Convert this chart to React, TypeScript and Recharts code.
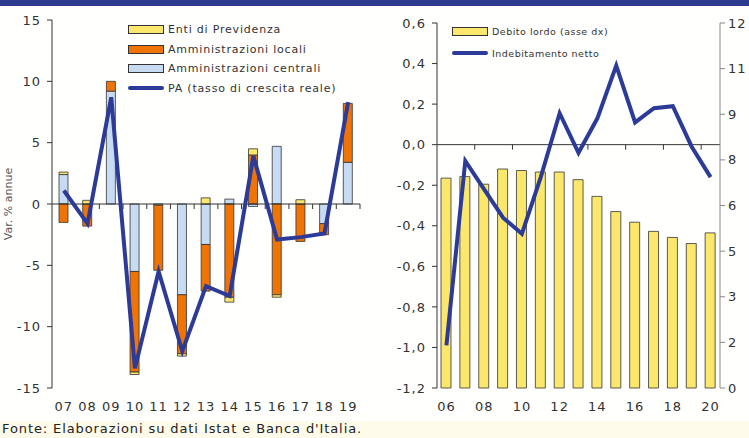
import React from "react";
import {
  ComposedChart,
  Bar,
  Line,
  XAxis,
  YAxis,
  ReferenceLine,
  Legend,
} from "recharts";

// pannello sinistro: contributi alla crescita della spesa PA
const years = ["07", "08", "09", "10", "11", "12", "13", "14", "15", "16", "17", "18", "19"];
const centrali = [2.4, 0, 9.2, -5.5, -0.1, -7.4, -3.3, 0.4, -0.2, 4.7, 0, -1.6, 3.4];
const locali = [-1.5, -1.8, 0.8, -8.2, -5.3, -4.8, -3.8, -7.6, 4.0, -7.4, -3.05, -0.9, 4.8];
const enti = [0.2, 0.3, 0, -0.2, 0, -0.2, 0.5, -0.4, 0.5, -0.2, 0.35, 0, 0];
const pa = [1.1, -1.6, 8.7, -13.4, -5.5, -12.0, -6.7, -7.5, 3.9, -2.9, -2.7, -2.4, 8.3];
const leftTicks = [-15, -10, -5, 0, 5, 10, 15];

// pannello destro: debito lordo e indebitamento netto
const anni = ["06", "07", "08", "09", "10", "11", "12", "13", "14", "15", "16", "17", "18", "19", "20"];
const debito = [6.9, 6.95, 6.7, 7.2, 7.15, 7.1, 7.1, 6.85, 6.3, 5.8, 5.45, 5.15, 4.95, 4.75, 5.1];
const indebitamento = [-0.99, -0.08, -0.22, -0.36, -0.44, -0.16, 0.155, -0.04, 0.13, 0.39, 0.11, 0.18, 0.19, -0.01, -0.16];
const ticksSx = [-1.2, -1, -0.8, -0.6, -0.4, -0.2, 0, 0.2, 0.4, 0.6];
const ticksDx = [0, 1.5, 3, 4.5, 6, 7.5, 9, 10.5, 12];

const YELLOW = "#fbe76c";
const ORANGE = "#ef7405";
const LIGHTBLUE = "#c7dbf3";
const NAVY = "#2d3b98";
const FONT = "DejaVu Sans, Verdana, sans-serif";

const leftData = years.map((y, i) => ({
  year: y,
  centrali: centrali[i],
  locali: locali[i],
  enti: enti[i],
  pa: pa[i],
}));

const rightData = anni.map((a, i) => ({
  anno: a,
  debito: debito[i],
  indebitamento: indebitamento[i],
}));

const tick = { fontSize: 13, fill: "#333", fontFamily: FONT, letterSpacing: 1 };

type Item = { label: string; color: string; kind: "rect" | "line" };

function LegendBox({ items, fontSize, gap, spacing }: { items: Item[]; fontSize: number; gap: number; spacing: number }) {
  return (
    <div style={{ fontFamily: FONT, fontSize, color: "#333", letterSpacing: spacing, whiteSpace: "nowrap" }}>
      {items.map((it) => (
        <div key={it.label} style={{ display: "flex", alignItems: "center", height: gap }}>
          {it.kind === "rect" ? (
            <span
              style={{
                display: "inline-block",
                width: 34,
                height: 7,
                background: it.color,
                border: "1px solid #333",
                marginRight: 4,
              }}
            />
          ) : (
            <span
              style={{
                display: "inline-block",
                width: 36,
                height: 4,
                borderRadius: 2,
                background: it.color,
                marginRight: 4,
              }}
            />
          )}
          {it.label}
        </div>
      ))}
    </div>
  );
}

const leftLegend: Item[] = [
  { label: "Enti di Previdenza", color: YELLOW, kind: "rect" },
  { label: "Amministrazioni locali", color: ORANGE, kind: "rect" },
  { label: "Amministrazioni centrali", color: LIGHTBLUE, kind: "rect" },
  { label: "PA (tasso di crescita reale)", color: NAVY, kind: "line" },
];

const rightLegend: Item[] = [
  { label: "Debito lordo (asse dx)", color: YELLOW, kind: "rect" },
  { label: "Indebitamento netto", color: NAVY, kind: "line" },
];

function AxisTitle(props: any) {
  const { viewBox } = props;
  const x = viewBox.x + 12;
  const y = viewBox.y + viewBox.height / 2;
  return (
    <text
      x={x}
      y={y}
      transform={`rotate(-90, ${x}, ${y})`}
      textAnchor="middle"
      fontSize={11}
      fill="#555"
      fontFamily={FONT}
    >
      Var. % annue
    </text>
  );
}

// linea dello zero con le tacche fra le categorie (stile Excel)
function zeroLine(count: number, step: number) {
  return (props: any) => {
    const { x1, x2, y1 } = props;
    const w = (x2 - x1) / count;
    const marks = [];
    for (let k = step; k <= count; k += step) {
      const x = x1 + k * w;
      marks.push(<line key={k} x1={x} x2={x} y1={y1} y2={y1 + 5} stroke="#333" strokeWidth={1} />);
    }
    return (
      <g>
        <line x1={x1} x2={x2} y1={y1} y2={y1} stroke="#333" strokeWidth={1} />
        {marks}
      </g>
    );
  };
}

const fmtComma = (v: number) => v.toFixed(1).replace(".", ",");

export default function App() {
  return (
    <div
      style={{
        position: "absolute",
        left: 0,
        top: 0,
        width: 749,
        height: 438,
        background: "#fffffd",
        overflow: "hidden",
      }}
    >
      <div style={{ position: "absolute", left: 0, top: 0, width: 749, height: 6, background: "#2e3b8f" }} />

      <div style={{ position: "absolute", left: 0, top: 0 }}>
        <ComposedChart
          width={375}
          height={418}
          data={leftData}
          stackOffset="sign"
          barSize={9}
          margin={{ top: 20, right: 15, bottom: 0, left: 0 }}
        >
          <XAxis
            dataKey="year"
            axisLine={false}
            tickLine={false}
            interval={0}
            tick={tick}
            tickMargin={8}
            height={30}
          />
          <YAxis
            domain={[-15, 15]}
            ticks={leftTicks}
            width={52}
            tick={tick}
            tickSize={5}
            tickMargin={6}
            axisLine={{ stroke: "#333" }}
            tickLine={{ stroke: "#333" }}
            label={<AxisTitle />}
          />
          <Bar dataKey="centrali" stackId="a" fill={LIGHTBLUE} stroke="#333" strokeWidth={0.8} isAnimationActive={false} />
          <Bar dataKey="locali" stackId="a" fill={ORANGE} stroke="#333" strokeWidth={0.8} isAnimationActive={false} />
          <Bar dataKey="enti" stackId="a" fill={YELLOW} stroke="#333" strokeWidth={0.8} isAnimationActive={false} />
          <ReferenceLine y={0} shape={zeroLine(years.length, 1)} />
          <Line
            dataKey="pa"
            type="linear"
            stroke={NAVY}
            strokeWidth={4}
            dot={false}
            isAnimationActive={false}
          />
          <Legend
            layout="horizontal"
            verticalAlign="middle"
            align="center"
            wrapperStyle={{ top: 20, left: 128, width: "auto", height: "auto" }}
            content={() => <LegendBox items={leftLegend} fontSize={11} gap={19.5} spacing={0.8} />}
          />
        </ComposedChart>
      </div>

      <div style={{ position: "absolute", left: 375, top: 0 }}>
        <ComposedChart
          width={374}
          height={418}
          data={rightData}
          barSize={10}
          margin={{ top: 23, right: 0, bottom: 0, left: 0 }}
        >
          <XAxis
            dataKey="anno"
            axisLine={false}
            tickLine={false}
            interval={1}
            tick={tick}
            tickMargin={8}
            height={30}
          />
          <YAxis
            yAxisId="sx"
            domain={[-1.2, 0.6]}
            ticks={ticksSx}
            tickFormatter={fmtComma}
            width={62}
            tick={tick}
            tickSize={5}
            tickMargin={6}
            axisLine={{ stroke: "#333" }}
            tickLine={{ stroke: "#333" }}
          />
          <YAxis
            yAxisId="dx"
            orientation="right"
            domain={[0, 12]}
            ticks={ticksDx}
            tickFormatter={(v: number) => String(Math.round(v))}
            width={29}
            tick={tick}
            tickSize={5}
            tickMargin={3}
            axisLine={{ stroke: "#888" }}
            tickLine={{ stroke: "#888" }}
          />
          <Bar
            yAxisId="dx"
            dataKey="debito"
            fill={YELLOW}
            stroke="#333"
            strokeWidth={0.8}
            isAnimationActive={false}
          />
          <ReferenceLine yAxisId="sx" y={0} shape={zeroLine(anni.length, 2)} />
          <Line
            yAxisId="sx"
            dataKey="indebitamento"
            type="linear"
            stroke={NAVY}
            strokeWidth={4}
            dot={false}
            isAnimationActive={false}
          />
          <Legend
            layout="horizontal"
            verticalAlign="middle"
            align="center"
            wrapperStyle={{ top: 20, left: 77, width: "auto", height: "auto" }}
            content={() => <LegendBox items={rightLegend} fontSize={9.5} gap={22} spacing={0.5} />}
          />
        </ComposedChart>
      </div>

      <div
        style={{
          position: "absolute",
          left: 0,
          top: 421,
          width: 749,
          height: 17,
          background: "#fffbea",
        }}
      />
      <div
        style={{
          position: "absolute",
          left: 2,
          top: 421,
          fontFamily: FONT,
          fontSize: 13,
          letterSpacing: 0.9,
          color: "#222",
          whiteSpace: "nowrap",
        }}
      >
        Fonte: Elaborazioni su dati Istat e Banca d'Italia.
      </div>
    </div>
  );
}
